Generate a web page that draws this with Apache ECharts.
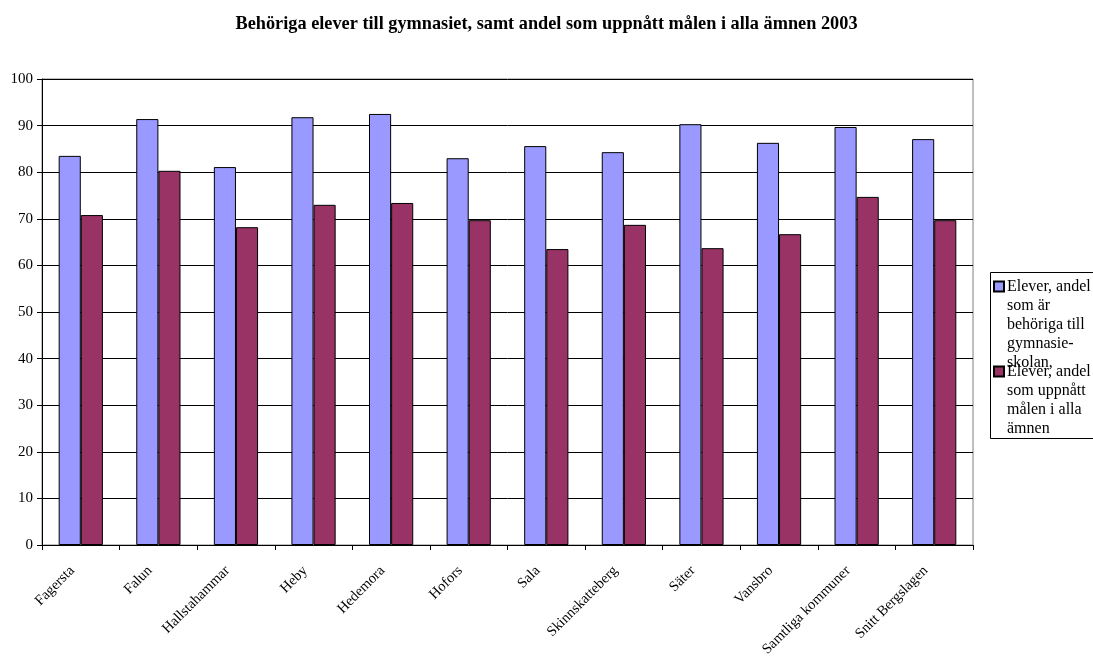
<!DOCTYPE html>
<html>
<head>
<meta charset="utf-8">
<script src="https://cdn.jsdelivr.net/npm/echarts@6/dist/echarts.min.js"></script>
<style>html,body{margin:0;padding:0;background:#fff}#c{width:1093px;height:657px}</style>
</head>
<body>
<div id="c"></div>
<script>
const categories = ['Fagersta','Falun','Hallstahammar','Heby','Hedemora','Hofors','Sala','Skinnskatteberg','Säter','Vansbro','Samtliga kommuner','Snitt Bergslagen'];
const seriesNames = ['Elever, andel som är behöriga till gymnasie-skolan,','Elever, andel som uppnått målen i alla ämnen'];
const legendLabels = ['Elever, andel\nsom är\nbehöriga till\ngymnasie-\nskolan,','Elever, andel\nsom uppnått\nmålen i alla\nämnen'];
const behoriga = [83.5, 91.4, 81.1, 91.8, 92.5, 83.0, 85.6, 84.3, 90.3, 86.3, 89.7, 87.1];
const uppnatt  = [70.8, 80.3, 68.2, 73.0, 73.4, 69.7, 63.5, 68.7, 63.7, 66.7, 74.7, 69.7];
const yTicks = {min: 0, max: 100, interval: 10};
const titleText = 'Behöriga elever till gymnasiet, samt andel som uppnått målen i alla ämnen 2003';

const FONT = '"Liberation Serif", "Times New Roman", serif';
const L = 19;
function iconPath(lines){
  const h = lines * L;
  const c = L/2;
  return 'path://M0,0 M10,' + h + ' M0,' + (c-5) + 'h10v10h-10z';
}
const chart = echarts.init(document.getElementById('c'), null, {renderer:'canvas'});
chart.setOption({
  animation:false,
  backgroundColor:'#fff',
  title:{text:titleText, left:'center', top:10, textStyle:{fontFamily:FONT, fontSize:18.3, fontWeight:'bold', color:'#000'}},
  grid:{left:42, right:120, top:79, bottom:112, show:true, borderColor:'#808080', borderWidth:1, containLabel:false, outerBoundsMode:'none'},
  graphic:[{type:'rect', left:990, top:272, shape:{width:120, height:166}, style:{fill:'#fff', stroke:'#000', lineWidth:1}, z:-1}],
  legend:[
    {data:[{name:seriesNames[0], icon:iconPath(5)}], orient:'vertical', left:993, top:276, padding:0, itemWidth:10, itemHeight:5*L, itemGap:0,
     formatter:()=>legendLabels[0],
     textStyle:{fontFamily:FONT, fontSize:16, color:'#000', lineHeight:L, padding:[0,0,0,-2]}},
    {data:[{name:seriesNames[1], icon:iconPath(4)}], orient:'vertical', left:993, top:361, padding:0, itemWidth:10, itemHeight:4*L, itemGap:0,
     formatter:()=>legendLabels[1],
     textStyle:{fontFamily:FONT, fontSize:16, color:'#000', lineHeight:L, padding:[0,0,0,-2]}}
  ],
  xAxis:{type:'category', data:categories,
    axisLine:{lineStyle:{color:'#000', width:1}},
    axisTick:{show:true, length:5, lineStyle:{color:'#000'}},
    axisLabel:{rotate:45, interval:0, margin:15, padding:[0,12,0,0], fontFamily:FONT, fontSize:14.5, color:'#000'}},
  yAxis:{type:'value', min:yTicks.min, max:yTicks.max, interval:yTicks.interval,
    axisLine:{show:true, lineStyle:{color:'#000', width:1}},
    axisTick:{show:true, length:5, lineStyle:{color:'#000'}},
    splitLine:{show:true, lineStyle:{color:'#000', width:1}},
    axisLabel:{margin:9, fontFamily:FONT, fontSize:15, color:'#000'}},
  series:[
    {name:seriesNames[0], type:'bar', data:behoriga, barGap:'0%', barCategoryGap:'43%',
     itemStyle:{color:'#9999FF', borderColor:'#000', borderWidth:1}},
    {name:seriesNames[1], type:'bar', data:uppnatt, barGap:'0%', barCategoryGap:'43%',
     itemStyle:{color:'#993366', borderColor:'#000', borderWidth:1}}
  ]
});
</script>
</body>
</html>
